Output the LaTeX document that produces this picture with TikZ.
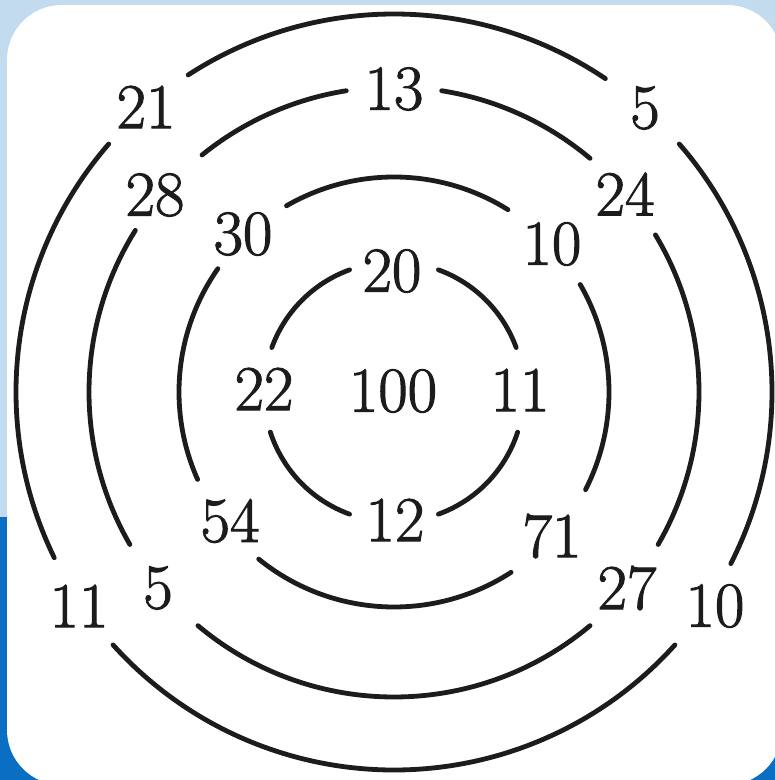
\documentclass[tikz,border=0pt]{standalone}
\usepackage{fontspec}
\newfontfamily\numfont{Latin Modern Roman}[FakeBold=1.6]
\definecolor{skyblue}{HTML}{C2DBEF}
\definecolor{deepblue}{HTML}{0A6FC2}
\definecolor{ink}{HTML}{1C1C1C}
\tikzset{
  ring/.style={draw=ink, line width=4.8pt, line cap=round},
  num/.style={inner sep=0pt, text=ink, font=\numfont\fontsize{64}{64}\selectfont}
}
\begin{document}
\begin{tikzpicture}[x=1pt,y=1pt]
\useasboundingbox (0,0) rectangle (775,780);
\begin{scope}
\clip (0,0) rectangle (775,780);
\fill[skyblue] (0,263) rectangle (775,780);
\fill[deepblue] (0,0) rectangle (775,263);
\fill[white, rounded corners=55pt] (7,-5) rectangle (782,775);
\end{scope}
\coordinate (c) at (394,388);
% inner circle r=130
\foreach \a/\b in {20/70,110/160,198/250,290/342}
  \draw[ring] (c) ++(\a:130) arc[start angle=\a, end angle=\b, radius=130];
% second circle r=215
\foreach \a/\b in {58/120,145/204,231/303,-27/30}
  \draw[ring] (c) ++(\a:215) arc[start angle=\a, end angle=\b, radius=215];
% third circle r=305
\foreach \a/\b in {50/81,99/129,148/210,230/310,-30/31}
  \draw[ring] (c) ++(\a:305) arc[start angle=\a, end angle=\b, radius=305];
% outer circle r=378
\foreach \a/\b in {56/123,139/206,222/318,-27/41}
  \draw[ring] (c) ++(\a:378) arc[start angle=\a, end angle=\b, radius=378];
% labels
\node[num] (n21) at (146,673) {21};
\node[num] (n13) at (394,691) {13};
\node[num] (n5a) at (645,672) {5};
\node[num] (n28) at (155,585) {28};
\node[num] (n24) at (625,586) {24};
\node[num] (n30) at (243,546) {30};
\node[num] (n10a) at (552,536) {10};
\node[num] (n20) at (392,509) {20};
\node[num] (n22) at (264,391) {22};
\node[num] (n100) at (393,389) {100};
\node[num] (n11a) at (520,390) {11};
\node[num] (n54) at (230,259) {54};
\node[num] (n12) at (395,260) {12};
\node[num] (n71) at (552,244) {71};
\node[num] (n11b) at (79,174) {11};
\node[num] (n5b) at (158,192) {5};
\node[num] (n27) at (627,192) {27};
\node[num] (n10b) at (715,174) {10};
\end{tikzpicture}
\end{document}
